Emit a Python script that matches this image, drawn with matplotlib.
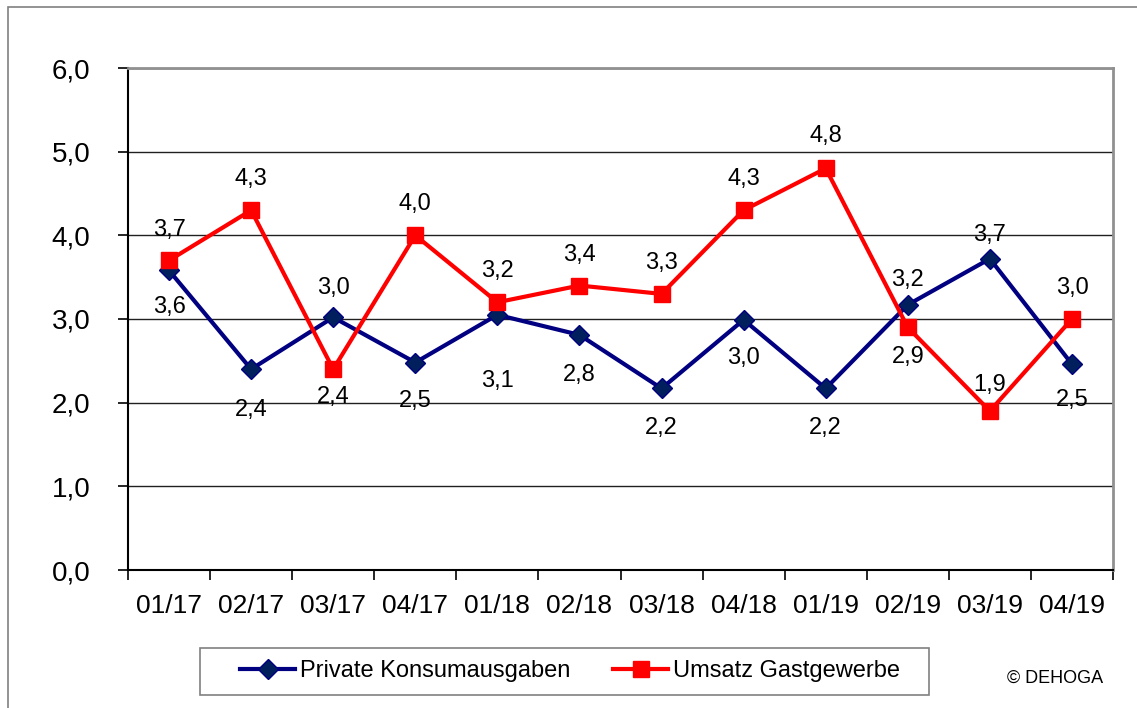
import matplotlib.pyplot as plt
from matplotlib.patches import Rectangle

plt.rcParams['font.family'] = ['Liberation Sans', 'DejaVu Sans']

quarters = ['01/17', '02/17', '03/17', '04/17', '01/18', '02/18',
            '03/18', '04/18', '01/19', '02/19', '03/19', '04/19']
konsum = [3.58, 2.40, 3.02, 2.48, 3.05, 2.81, 2.17, 2.99, 2.17, 3.17, 3.72, 2.46]
konsum_lbl = ['3,6', '2,4', '3,0', '2,5', '3,1', '2,8', '2,2', '3,0', '2,2', '3,2', '3,7', '2,5']
umsatz = [3.7, 4.3, 2.4, 4.0, 3.2, 3.4, 3.3, 4.3, 4.8, 2.9, 1.9, 3.0]
umsatz_lbl = ['3,7', '4,3', '2,4', '4,0', '3,2', '3,4', '3,3', '4,3', '4,8', '2,9', '1,9', '3,0']
# label offsets in pixels (positive = above marker)
konsum_off = [-37, -41, 29, -38, -66, -40, -40, -38, -40, 25, 24, -36]
umsatz_off = [30, 31, -28, 31, 31, 31, 31, 31, 32, -30, 26, 31]

blue = '#000080'
red = '#ff0000'

fig = plt.figure(figsize=(11.37, 7.08), dpi=100)
ax = fig.add_axes([128 / 1137, 1 - 570 / 708, (1113 - 128) / 1137, (570 - 68) / 708])

# outer frame
fig.patches.append(Rectangle((8 / 1137, -0.01), 1.1, 1 - 7 / 708 + 0.01,
                             transform=fig.transFigure, fill=False,
                             edgecolor='#808080', linewidth=1.2))
# legend frame
fig.patches.append(Rectangle((200 / 1137, 1 - 695 / 708), 729 / 1137, 47 / 708,
                             transform=fig.transFigure, fill=False,
                             edgecolor='#808080', linewidth=1.2))

x = list(range(len(quarters)))
ax.plot(x, konsum, color=blue, linewidth=3, marker='D', markersize=10,
        markerfacecolor='#001f5c', markeredgecolor=blue, label='Private Konsumausgaben', zorder=3)
ax.plot(x, umsatz, color=red, linewidth=3, marker='s', markersize=11,
        markerfacecolor=red, markeredgecolor=red, label='Umsatz Gastgewerbe', zorder=3)

for i in x:
    ax.annotate(konsum_lbl[i], (i, konsum[i]), xytext=(0, konsum_off[i] * 0.72),
                textcoords='offset points', ha='center', va='center', fontsize=17)
    ax.annotate(umsatz_lbl[i], (i, umsatz[i]), xytext=(0, umsatz_off[i] * 0.72),
                textcoords='offset points', ha='center', va='center', fontsize=17)

ax.set_xlim(-0.5, 11.5)
ax.set_ylim(0, 6)
ax.set_yticks([0, 1, 2, 3, 4, 5, 6])
ax.set_yticklabels(['0,0', '1,0', '2,0', '3,0', '4,0', '5,0', '6,0'], fontsize=20)
ax.set_xticks(x)
ax.set_xticklabels(quarters, fontsize=19)
ax.set_xticks([i - 0.5 for i in range(13)], minor=True)
ax.tick_params(axis='x', which='major', length=0, pad=17)
ax.tick_params(axis='x', which='minor', length=7, width=1.2, direction='out')
ax.tick_params(axis='y', length=7, width=1.2, direction='out', pad=20)
ax.yaxis.grid(True, color='#202020', linewidth=1)
ax.set_axisbelow(True)
for s in ['left', 'bottom']:
    ax.spines[s].set_linewidth(1.5)
    ax.spines[s].set_color('black')
for s in ['top', 'right']:
    ax.spines[s].set_linewidth(2)
    ax.spines[s].set_color('#909090')

fig.legend(loc='center', bbox_to_anchor=(570 / 1137, 1 - 671 / 708), ncol=2,
           fontsize=17, frameon=False, handlelength=2.35, handletextpad=0.2,
           columnspacing=1.8, borderpad=0.5, borderaxespad=0)

fig.text(1055 / 1137, 1 - 678 / 708, '© DEHOGA', ha='center', va='center', fontsize=13)

fig.savefig('out.png', dpi=100)
